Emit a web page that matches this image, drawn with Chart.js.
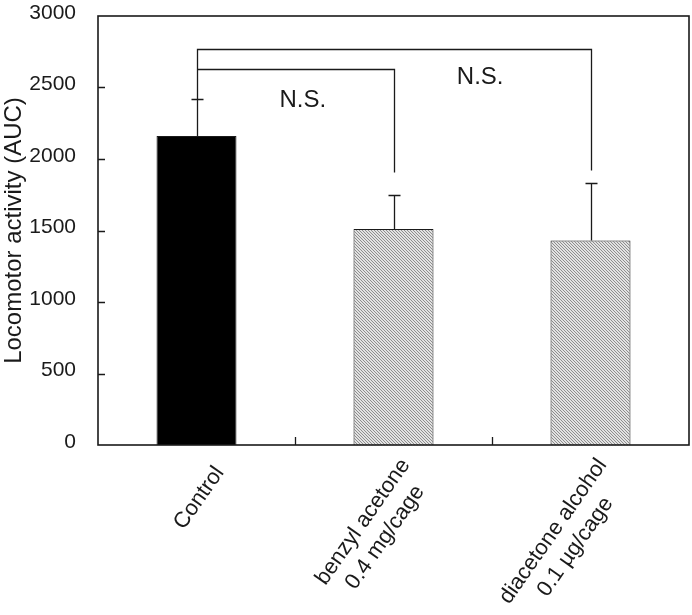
<!DOCTYPE html>
<html>
<head>
<meta charset="utf-8">
<script src="https://cdn.jsdelivr.net/npm/chart.js@4"></script>
<style>
    html, body { margin: 0; padding: 0; background: #ffffff; }
</style>
</head>
<body>
<canvas id="locoChart" width="692" height="615"></canvas>
<script>
// data
const categories = ['Control', ['benzyl acetone', '0.4 mg/cage'], ['diacetone alcohol', '0.1 µg/cage']];
const meanAUC = [2160, 1510, 1430];
const errorTop = [2420, 1745, 1835];
const yTicks = [0, 500, 1000, 1500, 2000, 2500, 3000];
const compareFrom = [0, 0];
const compareTo = [1, 2];
const compareLabel = ['N.S.', 'N.S.'];

const FONT = '"Liberation Sans", Arial, sans-serif';
const INK = '#1a1a1a';

function hatch() {
    const c = document.createElement('canvas');
    c.width = 3;
    c.height = 3;
    const g = c.getContext('2d');
    g.fillStyle = '#e2e2e2';
    g.fillRect(0, 0, 3, 3);
    g.fillStyle = '#8e8e8e';
    // one pixel per row, stepping right = "\" direction
    for (let i = 0; i < 3; i++) g.fillRect(i, i, 1, 1);
    return g.createPattern(c, 'repeat');
}

// box around the plot + inward tick marks
const framePlugin = {
    id: 'frame',
    afterDraw(chart) {
        const ctx = chart.ctx;
        const a = chart.chartArea;
        const x = chart.scales.x, y = chart.scales.y;
        ctx.save();
        ctx.strokeStyle = INK;
        ctx.lineWidth = 1.6;
        ctx.strokeRect(a.left, a.top, a.right - a.left, a.bottom - a.top);
        ctx.lineWidth = 1.3;
        ctx.beginPath();
        yTicks.slice(1, -1).forEach(v => {
            const py = Math.round(y.getPixelForValue(v)) + 0.5;
            ctx.moveTo(a.left, py);
            ctx.lineTo(a.left + 7, py);
        });
        for (let i = 0; i < categories.length - 1; i++) {
            const px = Math.round((x.getPixelForValue(i) + x.getPixelForValue(i + 1)) / 2) + 0.5;
            ctx.moveTo(px, a.bottom);
            ctx.lineTo(px, a.bottom - 8);
        }
        ctx.stroke();
        ctx.restore();
    }
};

// rotated category labels, lines centred on each other
const xLabelPlugin = {
    id: 'xlabels',
    afterDraw(chart) {
        const ctx = chart.ctx;
        const x = chart.scales.x;
        const a = chart.chartArea;
        const ang = 55 * Math.PI / 180;
        const lh = 27;
        ctx.save();
        ctx.fillStyle = INK;
        ctx.font = '22px ' + FONT;
        ctx.textBaseline = 'middle';
        ctx.textAlign = 'center';
        categories.forEach((lab, i) => {
            const lines = Array.isArray(lab) ? lab : [lab];
            const w = Math.max(...lines.map(t => ctx.measureText(t).width));
            ctx.save();
            ctx.translate(x.getPixelForValue(i) + 23, a.bottom + 24);
            ctx.rotate(-ang);
            lines.forEach((t, k) => {
                ctx.fillText(t, -w / 2, (k - (lines.length - 1) / 2) * lh);
            });
            ctx.restore();
        });
        ctx.restore();
    }
};

// upper error bars
const errorPlugin = {
    id: 'errbars',
    afterDatasetsDraw(chart) {
        const ctx = chart.ctx;
        const x = chart.scales.x, y = chart.scales.y;
        ctx.save();
        ctx.strokeStyle = INK;
        ctx.lineWidth = 1.3;
        ctx.beginPath();
        errorTop.forEach((v, i) => {
            const px = Math.round(x.getPixelForValue(i)) + 0.5;
            const top = Math.round(y.getPixelForValue(v)) + 0.5;
            ctx.moveTo(px, y.getPixelForValue(meanAUC[i]));
            ctx.lineTo(px, top);
            ctx.moveTo(px - 6, top);
            ctx.lineTo(px + 6, top);
        });
        ctx.stroke();
        ctx.restore();
    }
};

// significance brackets
const bracketLevel = [2630, 2770];
const bracketDrop = [1905, 1920];
const labelAt = [[0.54, 2410], [1.44, 2570]];
const bracketPlugin = {
    id: 'brackets',
    afterDraw(chart) {
        const ctx = chart.ctx;
        const x = chart.scales.x, y = chart.scales.y;
        const step = x.getPixelForValue(1) - x.getPixelForValue(0);
        ctx.save();
        ctx.strokeStyle = INK;
        ctx.lineWidth = 1.3;
        ctx.beginPath();
        compareFrom.forEach((f, k) => {
            const x0 = Math.round(x.getPixelForValue(f)) + 0.5;
            const x1 = Math.round(x.getPixelForValue(compareTo[k])) + 0.5;
            const yl = Math.round(y.getPixelForValue(bracketLevel[k])) + 0.5;
            ctx.moveTo(x0, y.getPixelForValue(errorTop[f]));
            ctx.lineTo(x0, yl);
            ctx.lineTo(x1, yl);
            ctx.lineTo(x1, y.getPixelForValue(bracketDrop[k]));
        });
        ctx.stroke();
        ctx.fillStyle = INK;
        ctx.font = '24px ' + FONT;
        ctx.textAlign = 'center';
        ctx.textBaseline = 'middle';
        compareLabel.forEach((t, k) => {
            const px = x.getPixelForValue(0) + labelAt[k][0] * step;
            ctx.fillText(t, px, y.getPixelForValue(labelAt[k][1]));
        });
        ctx.restore();
    }
};

function start() {
    const ctx = document.getElementById('locoChart');
    new Chart(ctx, {
        type: 'bar',
        data: {
            labels: categories,
            datasets: [{
                data: meanAUC,
                backgroundColor: ['#000000', hatch(), hatch()],
                borderColor: INK,
                borderWidth: 1,
                barPercentage: 0.406,
                categoryPercentage: 1
            }]
        },
        options: {
            responsive: false,
            animation: false,
            layout: { padding: { top: 16, right: 3, left: 0, bottom: 0 } },
            plugins: {
                legend: { display: false },
                tooltip: { enabled: false }
            },
            scales: {
                x: {
                    grid: { display: false, drawTicks: false },
                    border: { display: false },
                    afterFit(s) { s.height = 170; },
                    ticks: { display: false }
                },
                y: {
                    min: 0,
                    max: 3000,
                    afterFit(s) {
                        s.width = 98;
                        s.paddingTop = 0;
                        s.paddingBottom = 0;
                    },
                    afterBuildTicks(s) { s.ticks = yTicks.map(v => ({ value: v })); },
                    grid: { display: false, drawTicks: false },
                    border: { display: false },
                    title: {
                        display: true,
                        text: 'Locomotor activity (AUC)',
                        color: INK,
                        font: { family: FONT, size: 24 },
                        padding: { top: 0, bottom: 0 }
                    },
                    ticks: {
                        color: INK,
                        font: { family: FONT, size: 21 },
                        padding: 22,
                        labelOffset: -3,
                        callback: v => String(v)
                    }
                }
            }
        },
        plugins: [framePlugin, errorPlugin, bracketPlugin, xLabelPlugin]
    });
}

window.onload = start;
</script>
</body>
</html>
